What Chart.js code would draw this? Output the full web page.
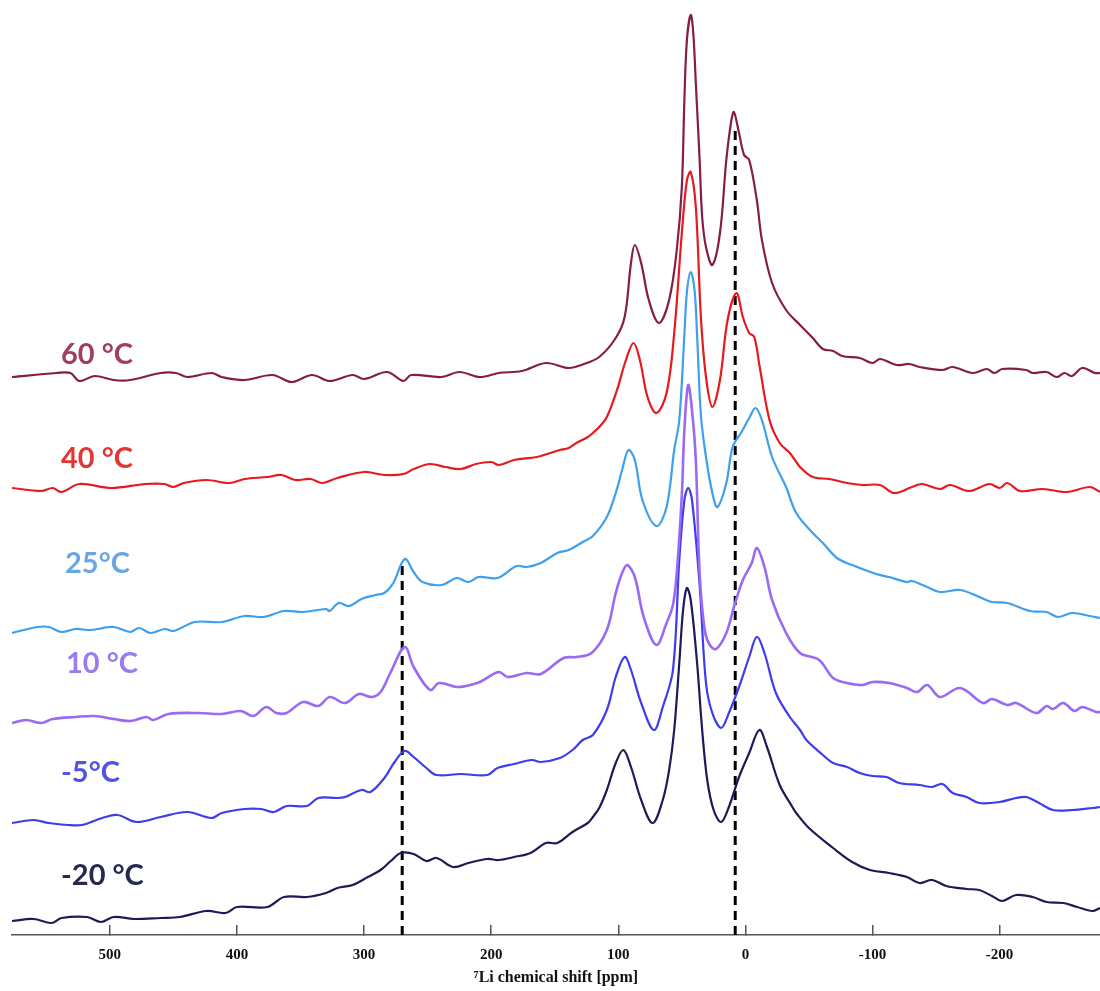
<!DOCTYPE html>
<html>
<head>
<meta charset="utf-8">
<title>7Li chemical shift vs temperature</title>
<script src="https://cdn.jsdelivr.net/npm/chart.js@4.4.1/dist/chart.umd.min.js"></script>
<style>
  html, body { margin: 0; padding: 0; background: #fff; }
  #wrap { width: 1100px; height: 991px; }
</style>
</head>
<body>
<div id="wrap"><canvas id="nmrChart" width="1100" height="991"></canvas></div>
<script>
/* ---- data: [shift ppm, stacked intensity] ---- */
const spec60 = [[577,558],[542,562],[531,562],[524,554],[512,559],[497,555],[484,555],[460,562],[448,562],[439,558],[420,562],[412,558],[394,555],[372,560],[357,553],[341,560],[327,554],[309,560],[300,556],[282,563],[269,554],[263,560],[239,558],[225,563],[209,558],[194,562],[176,564],[157,572],[139,567],[127,571],[115,578],[102,597],[95,618],[90,672],[87,690],[82,672],[76,635],[68,612],[60,635],[54,685],[50,748],[48,835],[46,895],[43,920],[41,902],[39,852],[36,775],[34,718],[31,688],[26,670],[20,702],[15,775],[11,815],[9,823],[5,802],[1,780],[-3,775],[-9,735],[-13,695],[-21,652],[-32,625],[-43,610],[-53,597],[-61,586],[-69,584],[-76,579],[-90,577],[-100,572],[-106,576],[-119,570],[-129,571],[-137,568],[-155,565],[-163,568],[-179,562],[-190,566],[-196,562],[-202,566],[-221,565],[-226,562],[-237,563],[-245,558],[-251,562],[-257,559],[-265,567],[-275,562],[-279,562]];

const spec40 = [[577,447],[554,444],[545,447],[538,443],[524,451],[499,447],[472,451],[457,451],[450,448],[442,452],[424,455],[406,452],[394,456],[376,458],[365,460],[354,455],[342,456],[333,452],[321,457],[300,463],[284,460],[269,461],[261,466],[248,471],[236,468],[224,466],[212,471],[200,473],[194,470],[182,475],[164,478],[151,483],[146,485],[139,487],[133,492],[124,498],[120,502],[115,508],[109,518],[101,545],[94,575],[88,592],[83,575],[77,538],[70,522],[62,542],[56,602],[50,702],[46,755],[43,763],[39,728],[35,618],[31,558],[26,528],[20,555],[14,615],[7,642],[2,618],[-3,602],[-7,598],[-11,570],[-19,515],[-27,492],[-35,482],[-43,468],[-53,458],[-66,456],[-80,452],[-92,450],[-106,450],[-117,442],[-131,448],[-139,451],[-153,446],[-161,450],[-176,444],[-192,451],[-200,447],[-206,452],[-216,444],[-234,446],[-253,443],[-271,448],[-279,443]];

const spec25 = [[577,302],[557,308],[548,308],[538,303],[527,306],[515,305],[497,308],[484,303],[477,307],[468,302],[457,306],[450,304],[433,313],[412,313],[394,319],[379,318],[363,324],[348,323],[330,326],[327,324],[320,332],[312,329],[302,336],[291,340],[284,342],[277,352],[268,376],[261,363],[254,353],[239,350],[227,357],[218,353],[210,358],[195,357],[180,369],[172,368],[161,372],[148,382],[139,385],[128,393],[120,399],[109,418],[102,442],[97,465],[92,485],[87,475],[81,435],[70,409],[62,428],[56,485],[52,515],[48,600],[46,643],[43,663],[40,645],[38,600],[35,520],[31,478],[26,442],[22,428],[15,452],[10,488],[3,503],[-3,517],[-8,527],[-13,515],[-21,478],[-32,448],[-40,422],[-53,402],[-61,392],[-72,377],[-84,370],[-103,361],[-113,358],[-127,353],[-131,354],[-143,348],[-153,343],[-169,345],[-184,338],[-194,333],[-206,332],[-224,324],[-237,323],[-246,318],[-257,322],[-271,319],[-279,317]];

const spec10 = [[577,212],[566,215],[554,212],[545,216],[527,218],[512,219],[497,216],[484,214],[471,218],[466,215],[454,221],[430,222],[412,221],[397,224],[387,219],[377,228],[369,222],[361,222],[348,233],[336,229],[327,238],[315,232],[304,241],[294,238],[287,243],[279,263],[268,288],[261,268],[248,245],[241,252],[227,248],[220,249],[209,253],[194,263],[187,258],[172,262],[161,261],[143,277],[133,278],[121,282],[109,305],[102,342],[97,362],[93,370],[87,358],[80,318],[70,290],[62,312],[57,330],[54,362],[50,440],[48,505],[45,550],[42,525],[39,475],[36,362],[32,305],[28,290],[23,286],[15,302],[9,328],[2,355],[-5,372],[-9,387],[-15,368],[-21,335],[-32,302],[-43,282],[-58,275],[-69,257],[-80,252],[-92,250],[-100,253],[-113,252],[-127,247],[-135,243],[-143,250],[-153,238],[-169,247],[-187,232],[-194,236],[-206,230],[-213,232],[-229,222],[-237,229],[-242,226],[-250,232],[-259,224],[-265,228],[-276,223],[-279,223]];

const specM5 = [[577,112],[560,115],[548,112],[533,110],[522,110],[506,117],[494,120],[479,113],[460,118],[439,123],[420,117],[412,122],[394,126],[381,126],[371,123],[361,129],[345,129],[336,137],[321,137],[315,138],[302,145],[295,143],[284,157],[276,173],[268,184],[261,178],[251,167],[243,160],[224,161],[203,160],[195,167],[182,171],[168,175],[161,173],[146,177],[136,185],[128,195],[120,200],[109,225],[102,258],[95,278],[90,265],[82,232],[72,205],[65,228],[57,265],[52,375],[48,435],[45,447],[42,435],[36,350],[31,252],[26,222],[19,207],[13,222],[5,248],[-3,278],[-9,298],[-15,282],[-24,242],[-35,218],[-43,205],[-48,195],[-61,180],[-69,172],[-80,168],[-90,162],[-100,159],[-111,158],[-121,152],[-137,150],[-147,148],[-155,151],[-163,142],[-174,138],[-184,132],[-200,133],[-213,137],[-221,138],[-231,132],[-242,125],[-257,125],[-273,127],[-279,128]];

const specM20 = [[577,14],[560,16],[546,12],[538,17],[518,18],[507,13],[497,18],[481,16],[460,17],[445,18],[424,24],[409,22],[400,28],[376,28],[363,38],[345,38],[330,42],[321,47],[309,50],[297,58],[287,65],[279,74],[271,82],[261,81],[251,74],[243,77],[230,68],[218,72],[203,76],[194,75],[182,78],[169,82],[157,92],[148,92],[136,103],[124,112],[120,118],[115,127],[109,145],[102,172],[96,185],[90,168],[82,135],[73,112],[65,135],[60,165],[56,205],[52,272],[49,325],[46,347],[43,335],[38,272],[34,205],[30,155],[25,125],[19,113],[13,128],[5,158],[-3,182],[-11,205],[-17,188],[-27,150],[-37,128],[-40,122],[-50,107],[-69,87],[-84,73],[-98,65],[-113,62],[-127,58],[-137,52],[-147,55],[-158,49],[-174,46],[-184,45],[-194,39],[-202,34],[-213,40],[-226,38],[-237,33],[-250,32],[-261,28],[-273,24],[-279,27]];

// reference markers (shift, top of dashed line)
const markerShifts = [270, 8];
const markerTops = [370, 810];

const tempLabels = ['60 \u00B0C', '40 \u00B0C', '25\u00B0C', '10 \u00B0C', '-5\u00B0C', '-20 \u00B0C'];
const xTicks = [500, 400, 300, 200, 100, 0, -100, -200];

/* ---- styles ---- */
const lineColors = ['#861d47', '#e8191d', '#3ea0ec', '#9a6af5', '#3d3cee', '#1d1b57'];
const labelColors = ['#a13d63', '#e43535', '#6aa7e2', '#9b7af2', '#5252e6', '#25284f'];
const labelAnchors = [[61, 355], [61, 459], [65, 564], [66, 664], [61, 773], [61, 876]];

const spectra = [spec60, spec40, spec25, spec10, specM5, specM20];

const datasets = spectra.map((spec, i) => ({
    label: tempLabels[i],
    data: spec.map(p => ({ x: p[0], y: p[1] })),
    borderColor: lineColors[i],
    borderWidth: i === 3 ? 2.6 : 2.2,
    pointRadius: 0,
    fill: false,
    tension: 0.35
}));

markerShifts.forEach((s, i) => {
    datasets.push({
        label: 'marker' + i,
        data: [{ x: s, y: 0 }, { x: s, y: markerTops[i] }],
        borderColor: '#000',
        borderWidth: 3,
        borderDash: [9, 6],
        pointRadius: 0,
        fill: false
    });
});

const tempLabelPlugin = {
    id: 'tempLabels',
    afterDatasetsDraw(chart) {
        const ctx = chart.ctx;
        ctx.save();
        ctx.font = 'bold 29px Lato, "Open Sans", sans-serif';
        ctx.textAlign = 'left';
        ctx.textBaseline = 'middle';
        tempLabels.forEach((t, i) => {
            ctx.fillStyle = labelColors[i];
            ctx.fillText(t, labelAnchors[i][0], labelAnchors[i][1]);
        });
        ctx.restore();
    }
};

new Chart(document.getElementById('nmrChart'), {
    type: 'line',
    data: { datasets: datasets },
    plugins: [tempLabelPlugin],
    options: {
        responsive: false,
        animation: false,
        layout: { padding: { left: 12, right: 0, top: 5, bottom: 0 } },
        plugins: { legend: { display: false }, tooltip: { enabled: false } },
        scales: {
            x: {
                type: 'linear',
                reverse: true,
                min: -279,
                max: 577,
                afterBuildTicks: (scale) => { scale.ticks = xTicks.map(v => ({ value: v })); },
                afterFit: (scale) => { scale.height = 56; },
                border: { display: true, color: '#555', width: 1.5 },
                grid: { drawOnChartArea: false, drawTicks: true, tickLength: -10, color: '#555', lineWidth: 1.5 },
                ticks: {
                    padding: 21,
                    color: '#111',
                    font: { family: '"Liberation Serif", serif', weight: 'bold', size: 15 }
                },
                title: {
                    display: true,
                    text: '\u2077Li chemical shift [ppm]',
                    color: '#111',
                    padding: { top: 0, bottom: 4 },
                    font: { family: '"Liberation Serif", serif', weight: 'bold', size: 16 }
                }
            },
            y: {
                type: 'linear',
                display: false,
                min: 0,
                max: 930
            }
        }
    }
});
</script>
</body>
</html>
